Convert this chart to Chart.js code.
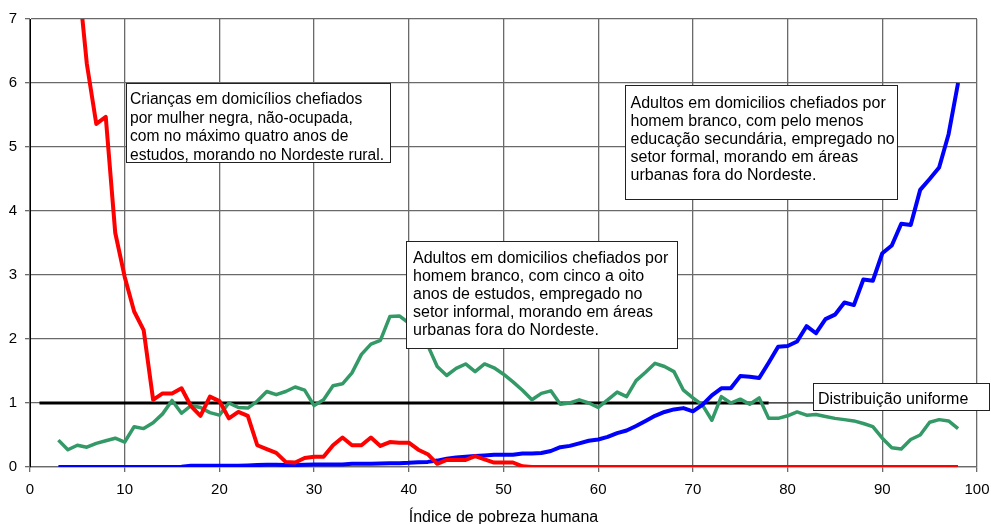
<!DOCTYPE html>
<html>
<head>
<meta charset="utf-8">
<script src="https://cdn.jsdelivr.net/npm/chart.js@4/dist/chart.umd.min.js"></script>
<style>
html,body{margin:0;padding:0;background:#fff;overflow:hidden;}
#wrap{width:991px;height:524px;}
</style>
</head>
<body>
<div id="wrap"><canvas id="c" width="991" height="524"></canvas></div>
<script>
// ---- data ----
const xValues = [3,4,5,6,7,8,9,10,11,12,13,14,15,16,17,18,19,20,21,22,23,24,25,26,27,28,29,30,31,32,33,34,35,36,37,38,39,40,41,42,43,44,45,46,47,48,49,50,51,52,53,54,55,56,57,58,59,60,61,62,63,64,65,66,67,68,69,70,71,72,73,74,75,76,77,78,79,80,81,82,83,84,85,86,87,88,89,90,91,92,93,94,95,96,97,98];

const redValues = [11.0,9.2,7.8,6.3,5.36,5.47,3.66,2.97,2.43,2.14,
  1.05,1.15,1.15,1.23,0.95,0.8,1.1,1.03,0.76,0.86,
  0.8,0.34,0.28,0.22,0.08,0.07,0.14,0.16,0.16,0.34,
  0.46,0.34,0.34,0.46,0.33,0.39,0.38,0.38,0.27,0.2,
  0.05,0.11,0.11,0.11,0.17,0.12,0.07,0.07,0.07,0.01,
  0,0,0,0,0,0,0,0,0,0,
  0,0,0,0,0,0,0,0,0,0,
  0,0,0,0,0,0,0,0,0,0,
  0,0,0,0,0,0,0,0,0,0,
  0,0,0,0,0,0];

const greenValues = [0.42,0.27,0.34,0.31,0.37,0.41,0.45,0.39,0.63,0.6,
  0.69,0.83,1.04,0.84,0.96,0.93,0.85,0.81,1.0,0.93,
  0.92,1.03,1.18,1.13,1.18,1.25,1.2,0.96,1.05,1.27,
  1.3,1.47,1.76,1.92,1.98,2.35,2.36,2.25,2.05,1.9,
  1.57,1.43,1.54,1.61,1.49,1.61,1.55,1.45,1.33,1.2,
  1.05,1.15,1.19,0.98,1.0,1.05,1.0,0.93,1.05,1.17,
  1.1,1.35,1.48,1.62,1.57,1.49,1.2,1.08,0.97,0.73,
  1.1,1.0,1.06,0.98,1.08,0.76,0.76,0.8,0.86,0.81,
  0.82,0.79,0.76,0.74,0.72,0.68,0.63,0.45,0.3,0.28,
  0.43,0.5,0.7,0.74,0.72,0.6];

const blueValues = [0,0,0,0,0,0,0,0,0,0,
  0,0,0,0.005,0.02,0.02,0.02,0.02,0.02,0.02,
  0.025,0.03,0.035,0.035,0.03,0.03,0.035,0.04,0.04,0.04,
  0.04,0.05,0.05,0.05,0.055,0.06,0.06,0.065,0.075,0.08,
  0.1,0.13,0.15,0.16,0.17,0.18,0.19,0.19,0.19,0.21,
  0.21,0.22,0.25,0.31,0.33,0.37,0.41,0.43,0.47,0.53,
  0.57,0.64,0.72,0.8,0.86,0.9,0.92,0.87,0.97,1.12,
  1.23,1.23,1.42,1.41,1.39,1.63,1.88,1.89,1.96,2.2,
  2.09,2.31,2.38,2.57,2.53,2.93,2.91,3.34,3.46,3.8,
  3.78,4.33,4.5,4.68,5.2,6.0];

const uniformX = [1, 78];
const uniformValues = [1, 1];

const xTicks = [0,10,20,30,40,50,60,70,80,90,100];
const yTicks = [0,1,2,3,4,5,6,7];

const xTitle = 'Índice de pobreza humana';

const noteRed = ['Crianças em domicílios chefiados','por mulher negra, não-ocupada,','com no máximo quatro anos de','estudos, morando no Nordeste rural.'];
const noteGreen = ['Adultos em domicilios chefiados por','homem branco, com cinco a oito','anos de estudos, empregado no','setor informal, morando em áreas','urbanas fora do Nordeste.'];
const noteBlue = ['Adultos em domicilios chefiados por','homem branco, com pelo menos','educação secundária, empregado no','setor formal, morando em áreas','urbanas fora do Nordeste.'];
const noteUniform = ['Distribuição uniforme'];

// ---- build ----
const pts = (xs, ys) => xs.map((x, i) => ({x: x, y: ys[i]}));

const FONT = '"Liberation Sans", Arial, sans-serif';

// annotation placement (anchor in data units = top-left of box, size in px)
const notes = [
  {lines: noteRed,     x: 10.14, y: 6.0,  w: 264, h: 79,  padL: 4, base: 21, lh: 18.5, fs: 15.6},
  {lines: noteGreen,   x: 39.7,  y: 3.53, w: 271, h: 107, padL: 7, base: 22, lh: 18, fs: 16},
  {lines: noteBlue,    x: 62.86, y: 5.97, w: 272, h: 114, padL: 5.5, base: 23, lh: 18, fs: 16},
  {lines: noteUniform, x: 82.71, y: 1.317, w: 176, h: 27, padL: 5, base: 21, lh: 18, fs: 16, leaderFrom: 78}
];

const notesPlugin = {
  id: 'notes',
  afterDatasetsDraw(chart) {
    const ctx = chart.ctx;
    const xs = chart.scales.x, ys = chart.scales.y;
    ctx.save();
    notes.forEach(n => {
      const left = Math.round(xs.getPixelForValue(n.x));
      const top = Math.round(ys.getPixelForValue(n.y));
      if (n.leaderFrom !== undefined) {
        const lx = xs.getPixelForValue(n.leaderFrom);
        const ly = ys.getPixelForValue(1);
        ctx.strokeStyle = '#333';
        ctx.lineWidth = 1.2;
        ctx.beginPath();
        ctx.moveTo(lx, ly);
        ctx.lineTo(left, ly);
        ctx.stroke();
      }
      ctx.fillStyle = '#fff';
      ctx.fillRect(left, top, n.w, n.h);
      ctx.strokeStyle = '#222';
      ctx.lineWidth = 1;
      ctx.strokeRect(left + 0.5, top + 0.5, n.w, n.h);
      ctx.fillStyle = '#000';
      ctx.font = n.fs + 'px ' + FONT;
      ctx.textBaseline = 'alphabetic';
      ctx.textAlign = 'left';
      n.lines.forEach((t, i) => {
        ctx.fillText(t, left + n.padL, top + n.base + i * n.lh);
      });
    });
    ctx.restore();
  }
};

const gridColor = '#6a6a6a';

new Chart(document.getElementById('c'), {
  type: 'line',
  data: {
    datasets: [
      {label: 'red', data: pts(xValues, redValues), borderColor: '#ff0000', borderWidth: 4, order: 0},
      {label: 'blue', data: pts(xValues, blueValues), borderColor: '#0000ff', borderWidth: 4, order: 1},
      {label: 'green', data: pts(xValues, greenValues), borderColor: '#339966', borderWidth: 3.5, order: 2},
      {label: 'Distribuição uniforme', data: pts(uniformX, uniformValues), borderColor: '#000000', borderWidth: 3, order: 3}
    ]
  },
  options: {
    responsive: false,
    animation: false,
    devicePixelRatio: 1,
    elements: {
      point: {radius: 0, hoverRadius: 0},
      line: {tension: 0, borderJoinStyle: 'round', borderCapStyle: 'butt', fill: false}
    },
    layout: {padding: {top: 19, right: 14, left: 0, bottom: 0}},
    plugins: {legend: {display: false}, tooltip: {enabled: false}},
    events: [],
    scales: {
      x: {
        type: 'linear',
        min: 0, max: 100,
        afterBuildTicks(scale) { scale.ticks = xTicks.map(v => ({value: v})); },
        afterFit(scale) { scale.height = 57; scale.paddingLeft = 0; scale.paddingRight = 0; },
        ticks: {color: '#000', font: {family: FONT, size: 15}, padding: 9, maxRotation: 0, autoSkip: false},
        grid: {color: gridColor, lineWidth: 1.3, tickLength: 5, drawTicks: true},
        border: {color: gridColor, width: 1.3},
        title: {display: true, text: xTitle, color: '#000', font: {family: FONT, size: 16}, padding: {top: 0, bottom: -3}}
      },
      y: {
        type: 'linear',
        min: 0, max: 7,
        afterBuildTicks(scale) { scale.ticks = yTicks.map(v => ({value: v})); },
        afterFit(scale) { scale.width = 30; scale.paddingTop = 0; scale.paddingBottom = 0; },
        ticks: {color: '#000', font: {family: FONT, size: 15}, padding: 8},
        grid: {color: gridColor, lineWidth: 1.3, tickLength: 5},
        border: {color: '#000', width: 1}
      }
    }
  },
  plugins: [notesPlugin]
});
</script>
</body>
</html>
